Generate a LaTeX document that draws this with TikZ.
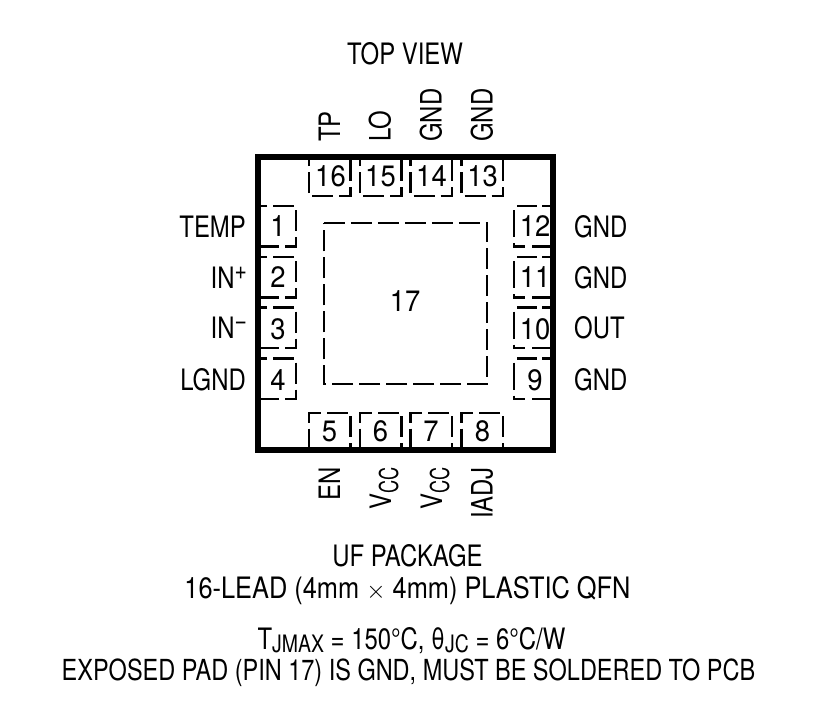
\documentclass[tikz,border=0pt]{standalone}
\usepackage{fontspec}
\setmainfont[FakeStretch=0.81]{TeX Gyre Heros}
\newfontfamily\pinfont[FakeStretch=0.93]{TeX Gyre Heros}
\newfontfamily\leadfont[FakeStretch=0.86]{TeX Gyre Heros}
\newfontfamily\subfont[FakeStretch=0.70]{TeX Gyre Heros}
\newcommand{\lowtext}[2][3pt]{\raisebox{-#1}{\fontsize{24}{24}\selectfont #2}}
\newcommand{\vccsub}{\raisebox{-7pt}{\subfont\fontsize{26}{26}\selectfont CC}}
\newcommand{\hightext}[1]{\raisebox{9pt}{\fontsize{26}{26}\selectfont #1}}

\begin{document}
\begin{tikzpicture}
      [x=1pt,y=-1pt,
       every node/.style={inner sep=0pt,font=\fontsize{29.5}{29.5}\selectfont},
       padline/.style={line width=2.2pt,dash pattern=on 21pt off 6pt},
       padlinetop/.style={line width=2.2pt,dash pattern=on 20pt off 5pt on 10pt off 5pt},
       padlineside/.style={line width=2.2pt,dash pattern=on 27pt off 6pt on 14.5pt off 7pt on 20pt off 5pt},
       pinnum/.style={anchor=center,font=\pinfont\fontsize{29.5}{29.5}\selectfont}]
      \useasboundingbox (0,0) rectangle (817,705);

      % exposed pad
      \node[minimum width=163pt,minimum height=161pt] (pad17) at (405.5,303.5) {};
      \node[pinnum] (num17) at (405,301.5) {17};
      \draw[padline] (pad17.north west) -- (pad17.north east) -- (pad17.south east) -- (pad17.south west) -- cycle;

      % pin numbers
      \foreach \n/\yy in {1/226.5,2/277,3/329,4/380}
        \node[pinnum] (pin\n) at (278,\yy) {\n};
      \foreach \n/\xx in {5/329.5,6/380.5,7/431,8/482.5}
        \node[pinnum] (pin\n) at (\xx,431) {\n};
      \foreach \n/\yy in {9/380,10/329,11/277,12/226.5}
        \node[pinnum] (pin\n) at (535,\yy) {\n};
      \foreach \n/\xx in {13/482.5,14/431.5,15/380.5,16/330.5}
        \node[pinnum] (pin\n) at (\xx,176.5) {\n};

      % pads, left and right sides
      \foreach \yy in {206,257,307.5,358.5} {
        \draw[padline] (294,\yy) -- (261,\yy);
        \draw[padline] (296,\yy+4) -- (296,\yy+40.5) -- (261,\yy+40.5);
        \draw[padlinetop] (517,\yy) -- (550,\yy);
        \draw[padlineside] (514,\yy+4) -- (514,\yy+40.5) -- (550,\yy+40.5);
      }
      % pads, top and bottom sides
      \foreach \xx in {309,360,410.5,461.5} {
        \draw[padline] (\xx,193) -- (\xx,160);
        \draw[padline] (\xx+3,196) -- (\xx+41.5,196) -- (\xx+41.5,160);
        \draw[padline] (\xx+41.5,416) -- (\xx+41.5,448);
        \draw[padline] (\xx+38.5,413) -- (\xx,413) -- (\xx,448);
      }

      \draw[line width=6pt] (257.6,157) rectangle (553,449.7);

      % pin names
      \node[anchor=base east] (temp) at (246,237) {TEMP};
      \node[anchor=base east] (inp) at (247,288) {IN\hightext{+}};
      \node[anchor=base east] (inn) at (247,338.5) {IN\hightext{−}};
      \node[anchor=base east] (lgnd) at (246,390) {LGND};
      \node[anchor=base west] (gnda) at (574,237) {GND};
      \node[anchor=base west] (gndb) at (574,288) {GND};
      \node[anchor=base west] (out) at (574,338.5) {OUT};
      \node[anchor=base west] (gndc) at (574,390) {GND};
      \node[anchor=base west,rotate=90] (tp) at (340,142) {TP};
      \node[anchor=base west,rotate=90] (lo) at (390.5,142) {LO};
      \node[anchor=base west,rotate=90] (gndd) at (441.5,142) {GND};
      \node[anchor=base west,rotate=90] (gnde) at (492.5,142) {GND};
      \node[anchor=base east,rotate=90] (en) at (340,467) {EN};
      \node[anchor=base east,rotate=90] (vcca) at (391,467) {V\vccsub};
      \node[anchor=base east,rotate=90] (vccb) at (442,467) {V\vccsub};
      \node[anchor=base east,rotate=90] (iadj) at (492.5,467) {IADJ};

      % captions
      \node[anchor=base] (topview) at (405,64) {TOP VIEW};
      \node[anchor=base] (pkg) at (407.5,566) {UF PACKAGE};
      \node[anchor=base] (lead) at (407.5,598) {\leadfont 16-LEAD (4mm \(\times\) 4mm) PLASTIC QFN};
      \node[anchor=base] (therm) at (411.5,649) {T\lowtext{JMAX} = 150°C, θ\lowtext{JC} = 6°C/W};
      \node[anchor=base,font=\fontsize{29}{29}\selectfont] (expad) at (408.5,680) {EXPOSED PAD (PIN 17) IS GND, MUST BE SOLDERED TO PCB};
    \end{tikzpicture}
\end{document}
